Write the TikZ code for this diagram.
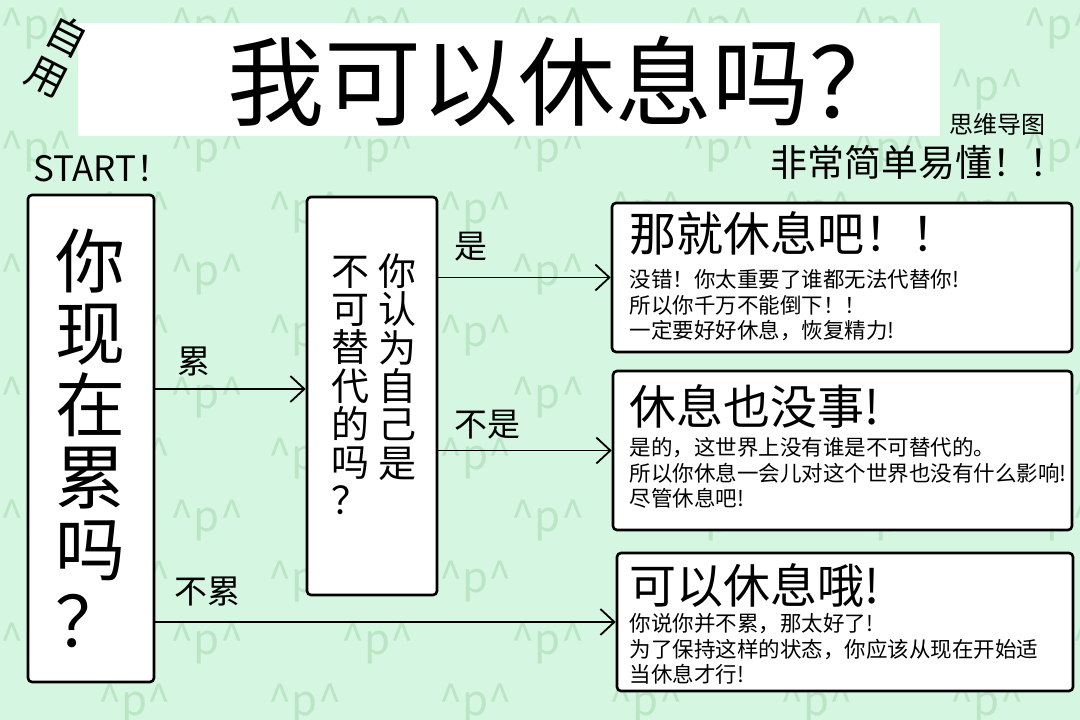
\documentclass[tikz,border=0pt]{standalone}
\usepackage{fontspec}
\setmainfont{Noto Sans CJK SC}
\usetikzlibrary{arrows.meta, positioning, calc}
\definecolor{bgmint}{HTML}{D5F6E0}
\definecolor{patmint}{HTML}{BBE6C6}
\newcommand{\fsz}[2]{\fontsize{#1}{#2}\selectfont}
\newcommand{\cardhead}[1]{{\fsz{47}{50}#1}}
\newcommand{\smiley}{\textasciicircum p\textasciicircum}
% one watermark, left out where a white box hides it
\newcommand{\patnode}[2]{%
  \pgfmathtruncatemacro{\hid}{(#1>103)*(#1<915)*(#2>37)*(#2<122)
    + (#1>53)*(#1<129)*(#2>209)*(#2<668)
    + (#1>332)*(#1<412)*(#2>211)*(#2<581)
    + (#1>637)*(#1<1047)*(#2>217)*(#2<338)
    + (#1>638)*(#1<1047)*(#2>385)*(#2<516)
    + (#1>642)*(#1<1048)*(#2>567)*(#2<677)}%
  \ifnum\hid=0 \node[pat] at (#1,#2) {\smiley};\fi}

\tikzset{
  pat/.style={font=\fsz{42}{42}, text=patmint, inner sep=0pt},
  qbox/.style={draw=black, line width=2.6pt, rounded corners=4pt, fill=white, inner sep=0pt},
  vcol/.style={inner sep=0pt, align=center, font=\fsz{38}{38.3}, anchor=north},
  cardtxt/.style={inner sep=0pt, align=left, font=\fsz{21.5}{25.5}, anchor=west},
  lbl/.style={inner sep=0pt, font=\fsz{33}{33}, anchor=south west},
  arr/.style={line width=1.8pt, -{Straight Barb[length=14pt, width=26pt]}},
}

\begin{document}
\begin{tikzpicture}[x=1pt, y=-1pt]
  \useasboundingbox (0,0) rectangle (1080,720);
  \fill[bgmint] (0,0) rectangle (1080,720);
  % background pattern
  \foreach \i in {0,...,6}{
    \foreach \j in {0,...,5}{
      \pgfmathsetmacro{\ax}{36.5+170.5*\i}
      \pgfmathsetmacro{\ay}{29+123*\j}
      \pgfmathsetmacro{\bx}{134.5+170.5*\i}
      \pgfmathsetmacro{\by}{90+123*\j}
      \patnode{\ax}{\ay}
      \patnode{\bx}{\by}
    }
  }

  % header
  \node[fill=white, inner sep=0pt, minimum width=862pt, minimum height=113pt] (titlebar) at (509,79.5) {};
  \node[font=\fsz{97}{97}, inner sep=0pt] (title) at ([xshift=58pt, yshift=-1.5pt]titlebar.center) {我可以休息吗？};
  \node[font=\fsz{40}{45}, align=center, rotate=-27, inner sep=0pt] (selfuse) at (57,56.5) {自\\用};
  \node[font=\fsz{24}{24}, inner sep=0pt] (mindmap) at (997,124) {思维导图};
  \node[font=\fsz{37}{37}, inner sep=0pt, anchor=west] (easy) at (770,162) {非常简单易懂！！};
  \node[font=\fsz{35}{35}, inner sep=0pt, anchor=west] (start) at (33,168.5) {START！};

  % questions
  \node[qbox, minimum width=126pt, minimum height=487pt, align=center, font=\fsz{70}{72}] (tired) at (91,438.5)
    {你\\现\\在\\累\\吗\\？};
  \node[qbox, minimum width=130pt, minimum height=398pt] (irreplace) at (372,396) {};
  \node[vcol] (colright) at ([xshift=25pt, yshift=-58pt]irreplace.north) {你\\认\\为\\自\\己\\是};
  \node[vcol] (colleft) at ([xshift=-22pt, yshift=-60pt]irreplace.north) {不\\可\\替\\代\\的\\吗\\？};

  % answers
  \node[qbox, minimum width=460pt, minimum height=149pt] (rest) at (842,277.5) {};
  \node[cardtxt] (resttxt) at ([xshift=19pt, yshift=1.5pt]rest.west)
    {\cardhead{那就休息吧！！}\\[11pt]
     没错！你太重要了谁都无法代替你!\\
     所以你千万不能倒下！！\\
     一定要好好休息，恢复精力!};
  \node[qbox, minimum width=459pt, minimum height=159pt] (fine) at (842.5,450.5) {};
  \node[cardtxt] (finetxt) at ([xshift=18pt, yshift=4pt]fine.west)
    {\cardhead{休息也没事!}\\[6pt]
     是的，这世界上没有谁是不可替代的。\\
     所以你休息一会儿对这个世界也没有什么影响!\\
     尽管休息吧!};
  \node[qbox, minimum width=456pt, minimum height=138pt] (okay) at (845,622) {};
  \node[cardtxt] (okaytxt) at ([xshift=14pt, yshift=-2pt]okay.west)
    {\cardhead{可以休息哦!}\\[3pt]
     你说你并不累，那太好了!\\
     为了保持这样的状态，你应该从现在开始适\\
     当休息才行!};

  % connectors
  \draw[arr] ([yshift=7pt]irreplace.west -| tired.east) -- ([yshift=7pt]irreplace.west)
    node[lbl, pos=0, xshift=21pt, yshift=12pt] {累};
  \draw[arr] (tired.east |- okay.west) -- (okay.west)
    node[lbl, pos=0, xshift=18pt, yshift=15pt] {不累};
  \draw[arr] (irreplace.east |- rest.west) -- (rest.west)
    node[lbl, pos=0, xshift=15pt, yshift=15pt] {是};
  \draw[arr] (irreplace.east |- fine.west) -- (fine.west)
    node[lbl, pos=0, xshift=15pt, yshift=10pt] {不是};
\end{tikzpicture}
\end{document}
